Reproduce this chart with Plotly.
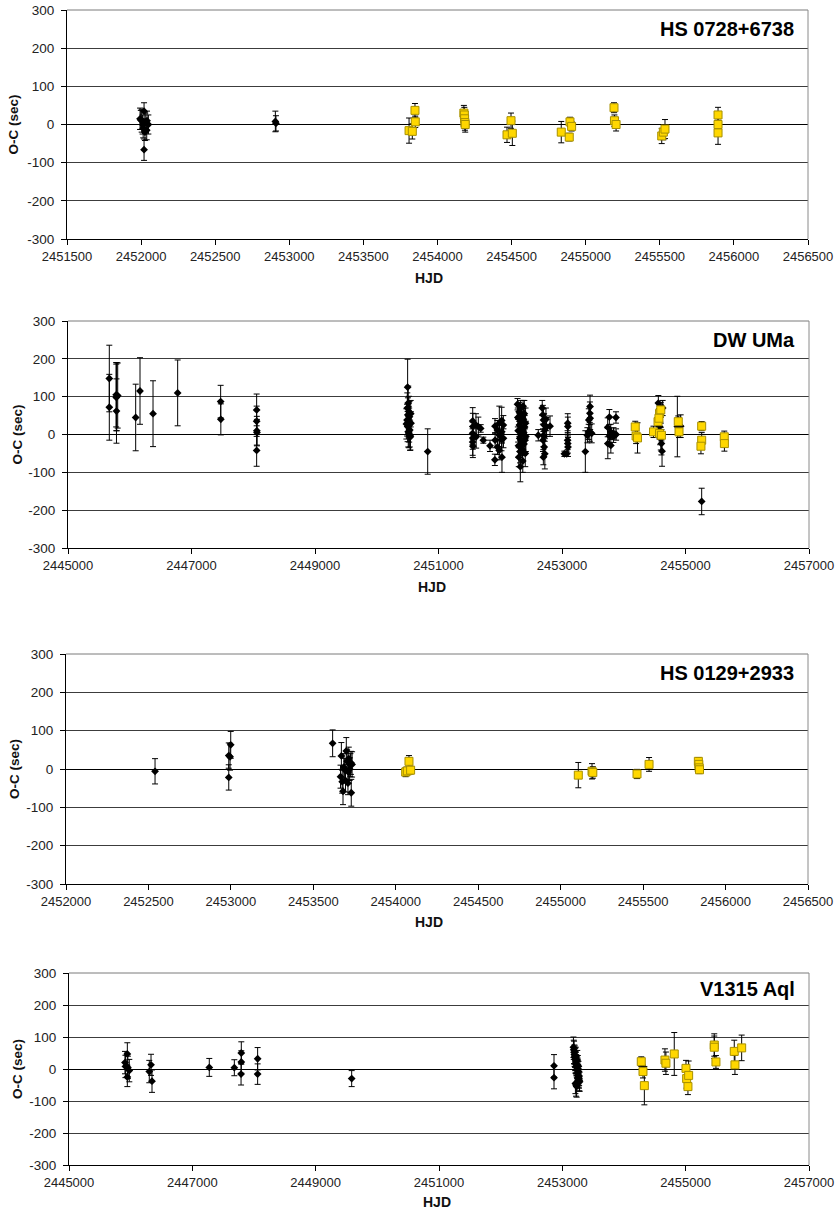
import plotly.graph_objects as go

# ===================== DATA =====================
# --- HS 0728+6738 ---
hs0728_blk_hjd = [2451993, 2451998, 2452004, 2452010, 2452014, 2452020, 2452020, 2452026, 2452028, 2452038, 2452040, 2452049, 2452906, 2452910]
hs0728_blk_oc  = [15, 12, 10, 0, -10, 35, -66, -20, 5, -15, 10, 0, 8, 3]
hs0728_blk_err = [28, 25, 30, 25, 25, 22, 28, 22, 25, 25, 25, 25, 27, 20]

hs0728_yel_hjd = [2453808, 2453830, 2453848, 2453850, 2454178, 2454181, 2454183, 2454185, 2454187, 2454469, 2454496, 2454505,
                  2454835, 2454889, 2454894, 2454905, 2455191, 2455194, 2455205, 2455513, 2455524, 2455535, 2455893, 2455893, 2455893]
hs0728_yel_oc  = [-16, -18, 37, 7, 30, 25, 15, 5, 0, -27, 10, -23,
                  -20, -33, 7, -5, 44, 10, 0, -30, -20, -12, 25, 0, -22]
hs0728_yel_err = [33, 20, 18, 15, 20, 20, 20, 20, 20, 20, 20, 32,
                  28, 10, 12, 12, 13, 15, 17, 20, 20, 25, 20, 15, 30]

# --- DW UMa ---
dwuma_blk_hjd = [2445669, 2445669, 2445780, 2445782, 2445785, 2445790, 2445805, 2446096, 2446166, 2446377, 2446776,
                 2447472, 2447475, 2448055, 2448055, 2448058, 2448060, 2448055,
                 2450500, 2450510, 2450495, 2450520, 2450505, 2450530, 2450490, 2450515, 2450525, 2450500, 2450535,
                 2450510, 2450520, 2450540, 2450545, 2450480, 2450550, 2450555,
                 2450825,
                 2451554, 2451556, 2451552, 2451555, 2451553, 2451557, 2451607, 2451610, 2451645, 2451683, 2451726, 2451834,
                 2451915, 2451917, 2451913, 2451953, 2451955, 2451985, 2451987, 2451983, 2452023, 2452025, 2452020, 2452028,
                 2452050, 2452052,
                 2452280, 2452285, 2452290, 2452295, 2452300, 2452305, 2452310, 2452315, 2452320, 2452325, 2452330,
                 2452335, 2452340, 2452345, 2452350, 2452355, 2452360, 2452365, 2452370, 2452375, 2452380, 2452385,
                 2452390, 2452395, 2452400, 2452405, 2452410, 2452415,
                 2452616,
                 2452680, 2452690, 2452700, 2452710, 2452720, 2452702, 2452692, 2452712, 2452722, 2452698, 2452740, 2452750,
                 2452806, 2453038, 2453076, 2453093, 2453095, 2453091, 2453094, 2453097,
                 2453378, 2453411, 2453432, 2453434, 2453454, 2453452, 2453456, 2453450, 2453481,
                 2453740, 2453742, 2453767, 2453769, 2453789, 2453791, 2453832, 2453834, 2453874, 2453876,
                 2454560, 2454570, 2454580, 2454590, 2454600, 2454610, 2454620, 2454630, 2454600,
                 2454868, 2454922, 2455262]
dwuma_blk_oc  = [148, 72, 105, 98, 62, 100, 103, 45, 115, 55, 110,
                 87, 40, 65, 35, 10, 5, -42,
                 125, 83, 70, 61, 52, 47, 38, 34, 25, 21, 12,
                 7, 3, -2, -6, 28, 55, 30,
                 -45,
                 36, 21, 3, -9, -20, -31, 25, -6, 21, 16, -15, -30,
                 22, -15, -67, 12, -33, 30, -2, -42, 37, 7, -13, -60,
                 25, -10,
                 80, 45, 10, -30, -60, 60, 25, -10, -45, -85, 70,
                 35, 0, -20, 50, 15, -40, -70, 75, 40, 5, -25,
                 55, 20, -15, -50, 30, -5,
                 -2,
                 70, 52, 38, 25, 12, -2, -15, -33, -51, -60, 40, 20,
                 22, -51, -51, 30, 21, -15, -24, -33,
                 -45, -2, 7, 38, 74, 56, 43, 7, 3,
                 19, -24, 46, -4, 7, -29, -6, 3, 45, 0,
                 83, 38, 21, 3, -11, -24, -44, 70, 55,
                 21, 22, -177]
dwuma_blk_err = [88, 87, 85, 88, 85, 90, 86, 88, 88, 87, 87,
                 43, 41, 42, 40, 38, 35, 42,
                 74, 45, 40, 40, 45, 40, 42, 40, 45, 40, 45,
                 40, 38, 40, 35, 40, 35, 30,
                 60,
                 35, 35, 30, 30, 35, 30, 30, 30, 25, 10, 8, 15,
                 20, 20, 15, 25, 20, 45, 30, 25, 35, 30, 30, 40,
                 25, 25,
                 15, 25, 30, 30, 25, 25, 30, 35, 30, 40, 20,
                 30, 35, 35, 30, 30, 30, 30, 15, 30, 30, 30,
                 35, 30, 30, 35, 40, 40,
                 15,
                 20, 25, 30, 30, 30, 30, 30, 25, 40, 20, 30, 25,
                 27, 7, 7, 25, 25, 25, 25, 25,
                 55, 20, 20, 30, 30, 30, 30, 25, 25,
                 25, 40, 20, 20, 20, 20, 15, 15, 15, 15,
                 20, 30, 30, 30, 30, 30, 40, 20, 25,
                 80, 30, 35]

dwuma_yel_hjd = [2454186, 2454200, 2454223, 2454482, 2454555, 2454580, 2454600, 2454570, 2454580, 2454610,
                 2454883, 2454895, 2455262, 2455262, 2455250, 2455628, 2455630]
dwuma_yel_oc  = [20, -4, -9, 7, 34, 56, 65, 43, 3, -2,
                 34, 7, 22, -15, -31, -6, -24]
dwuma_yel_err = [15, 20, 40, 15, 20, 20, 20, 20, 15, 15,
                 15, 15, 12, 20, 20, 15, 20]

# --- HS 0129+2933 ---
hs0129_blk_hjd = [2452540, 2452987, 2452987, 2452999, 2452995, 2453617,
                  2453665, 2453670, 2453675, 2453680, 2453685, 2453690, 2453695, 2453700, 2453705, 2453710,
                  2453715, 2453720, 2453725, 2453730, 2453728, 2453735, 2453712]
hs0129_blk_oc  = [-6, 35, -22, 63, 32, 67,
                  -20, 34, -33, -58, 5, -2, -30, 47, 20, -37,
                  27, 0, 10, -62, 16, 12, -8]
hs0129_blk_err = [33, 33, 33, 35, 35, 35,
                  30, 35, 30, 35, 35, 30, 30, 35, 30, 30,
                  30, 30, 30, 35, 30, 33, 30]

hs0129_yel_hjd = [2454060, 2454070, 2454080, 2454090, 2455107, 2455190, 2455195, 2455463, 2455536,
                  2455835, 2455838, 2455840, 2455842]
hs0129_yel_oc  = [-8, -5, 20, -3, -16, -6, -9, -13, 12, 20, 12, 3, -2]
hs0129_yel_err = [12, 10, 15, 10, 33, 20, 15, 12, 18, 10, 10, 10, 10]

# --- V1315 Aql ---
v1315_blk_hjd = [2445908, 2445915, 2445946, 2445946, 2445955, 2445978,
                 2446302, 2446330, 2446346, 2447275, 2447681, 2447794, 2447794, 2447790,
                 2448059, 2448059, 2449584, 2452865, 2452865,
                 2453180, 2453185, 2453190, 2453195, 2453200, 2453205, 2453210, 2453215, 2453220, 2453225,
                 2453230, 2453235, 2453240, 2453245, 2453250, 2453255, 2453260, 2453265, 2453270, 2453275,
                 2453280, 2453212, 2453222, 2453232, 2453242, 2453252, 2453262, 2453272, 2453218, 2453248]
v1315_blk_oc  = [20, 8, 47, -25, 5, -5,
                 -8, 13, -38, 5, 4, 50, 22, -16,
                 32, -16, -30, 10, -27,
                 68, 60, 52, 45, 40, 35, 30, 25, 20, 15,
                 10, 5, 0, -5, -10, -15, -20, -25, -30, -35,
                 -40, -45, -50, -55, 28, 12, -8, -22, 38, 2]
v1315_blk_err = [35, 35, 35, 30, 35, 35,
                 35, 33, 35, 28, 25, 35, 35, 34,
                 35, 32, 25, 35, 35,
                 32, 30, 35, 30, 32, 30, 35, 30, 32, 30,
                 30, 32, 30, 30, 32, 30, 30, 32, 30, 33,
                 30, 32, 35, 33, 30, 30, 32, 30, 30, 32]

v1315_yel_hjd = [2454280, 2454308, 2454330, 2454664, 2454680, 2454815, 2455005, 2455016, 2455048, 2455037,
                 2455464, 2455464, 2455491, 2455788, 2455799, 2455908]
v1315_yel_oc  = [23, -8, -52, 28, 18, 47, 2, -30, -20, -55, 75, 68, 22, 55, 13, 66]
v1315_yel_err = [15, 20, 60, 35, 35, 67, 25, 30, 45, 25, 35, 35, 20, 35, 30, 40]

# tick labels
y_tick_vals = [-300, -200, -100, 0, 100, 200, 300]
y_tick_text = ["-300", "-200", "-100", "0", "100", "200", "300"]

titles = ["HS 0728+6738", "DW UMa", "HS 0129+2933", "V1315 Aql"]
x_ranges = [(2451500, 2456500), (2445000, 2457000), (2452000, 2456500), (2445000, 2457000)]
x_dticks = [500, 2000, 500, 2000]

# ===================== LAYOUT =====================
W, H = 840, 1210
# plot area pixel boxes (left, right, top, bottom)
boxes = [(67, 808, 10, 239), (68, 809, 321, 548), (66, 808, 654, 884), (69, 809, 973, 1165)]
hjd_label_y = [278, 587, 922, 1202]
hjd_label_x = [429, 432, 429, 437]
ytitle_x = [13, 17, 14, 17]

series = [
    (hs0728_blk_hjd, hs0728_blk_oc, hs0728_blk_err, hs0728_yel_hjd, hs0728_yel_oc, hs0728_yel_err),
    (dwuma_blk_hjd, dwuma_blk_oc, dwuma_blk_err, dwuma_yel_hjd, dwuma_yel_oc, dwuma_yel_err),
    (hs0129_blk_hjd, hs0129_blk_oc, hs0129_blk_err, hs0129_yel_hjd, hs0129_yel_oc, hs0129_yel_err),
    (v1315_blk_hjd, v1315_blk_oc, v1315_blk_err, v1315_yel_hjd, v1315_yel_oc, v1315_yel_err),
]

FONT = "Arial, Liberation Sans, sans-serif"
fig = go.Figure()
layout = dict(
    width=W, height=H, margin=dict(l=0, r=0, t=0, b=0, autoexpand=False),
    paper_bgcolor="white", plot_bgcolor="white", showlegend=False,
    font=dict(family=FONT, color="#222222"),
)
annotations = []
shapes = []

for i, (box, data) in enumerate(zip(boxes, series)):
    n = "" if i == 0 else str(i + 1)
    l, r, t, b = box
    xd = [l / W, r / W]
    yd = [1 - b / H, 1 - t / H]
    bx, by, be, yx, yy, ye = data
    fig.add_trace(go.Scatter(
        x=bx, y=by, mode="markers", xaxis="x" + n, yaxis="y" + n,
        marker=dict(symbol="diamond", size=6, color="black"),
        error_y=dict(type="data", array=be, visible=True, color="black", thickness=1, width=3),
    ))
    fig.add_trace(go.Scatter(
        x=yx, y=yy, mode="markers", xaxis="x" + n, yaxis="y" + n,
        marker=dict(symbol="square", size=8, color="#FFD700", line=dict(color="#A89000", width=1)),
        error_y=dict(type="data", array=ye, visible=True, color="black", thickness=1, width=3),
    ))
    layout["xaxis" + n] = dict(
        domain=xd, anchor="y" + n, range=list(x_ranges[i]), dtick=x_dticks[i], tick0=x_ranges[i][0],
        tickformat="d", showgrid=False, zeroline=False, automargin=False,
        showline=True, linecolor="black", linewidth=1,
        ticks="outside", ticklen=5, tickcolor="black", tickwidth=1,
        tickfont=dict(size=13, color="#222222", family=FONT),
    )
    layout["yaxis" + n] = dict(
        domain=yd, anchor="x" + n, range=[-300, 300], automargin=False,
        tickvals=y_tick_vals, ticktext=y_tick_text,
        showgrid=True, gridcolor="#3c3c3c", gridwidth=1,
        zeroline=True, zerolinecolor="black", zerolinewidth=1,
        showline=True, linecolor="black", linewidth=1,
        ticks="outside", ticklen=5, tickcolor="black", tickwidth=1,
        ticklabelstandoff=4,
        tickfont=dict(size=13.5, color="#222222", family=FONT),
    )
    # top / right frame
    shapes.append(dict(type="line", xref="x" + n + " domain", yref="y" + n + " domain",
                       x0=0, x1=1, y0=1, y1=1, line=dict(color="#7a7a7a", width=1)))
    shapes.append(dict(type="line", xref="x" + n + " domain", yref="y" + n + " domain",
                       x0=1, x1=1, y0=0, y1=1, line=dict(color="#8a8a8a", width=1)))
    # panel title
    annotations.append(dict(text="<b>" + titles[i] + "</b>", xref="x" + n + " domain", yref="y" + n,
                            x=0.984, y=250, xanchor="right", yanchor="middle", showarrow=False,
                            font=dict(size=20, color="black", family=FONT)))
    # axis titles
    annotations.append(dict(text="<b>HJD</b>", xref="paper", yref="paper",
                            x=hjd_label_x[i] / W, y=1 - hjd_label_y[i] / H, xanchor="center", yanchor="middle",
                            showarrow=False, font=dict(size=14, color="#111111", family=FONT)))
    annotations.append(dict(text="<b>O-C (sec)</b>", xref="paper", yref="paper", textangle=-90,
                            x=ytitle_x[i] / W, y=1 - (t + b) / 2 / H, xanchor="center", yanchor="middle",
                            showarrow=False, font=dict(size=13.5, color="#111111", family=FONT)))

layout["annotations"] = annotations
layout["shapes"] = shapes
fig.update_layout(**layout)
fig.write_html(
    "out.html",
    config={"displayModeBar": False},
    post_script="document.body.style.margin='0';document.body.style.padding='0';"
                "document.documentElement.style.overflow='hidden';",
)
